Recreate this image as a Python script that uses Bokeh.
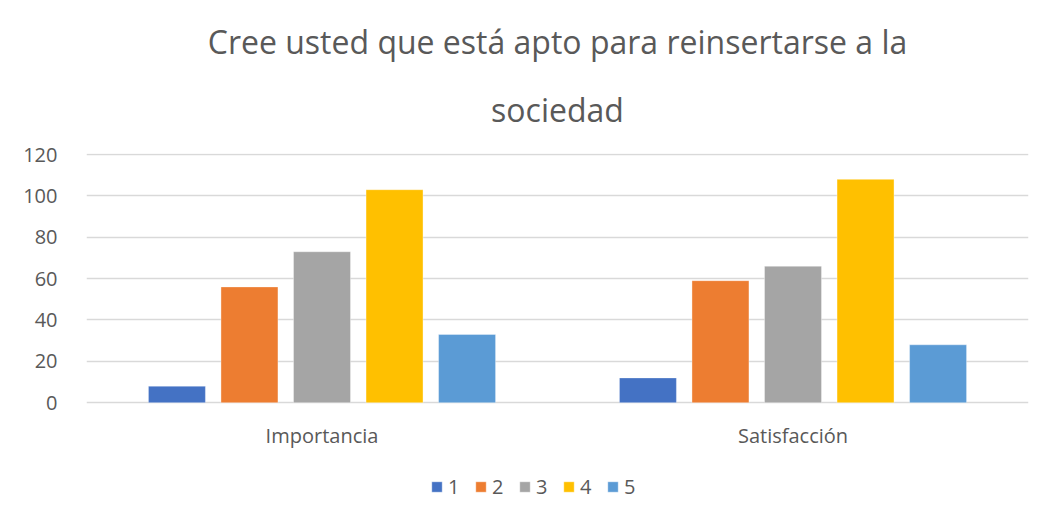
from bokeh.plotting import figure
from bokeh.models import FactorRange, Legend, LegendItem, ColumnDataSource, Range1d, Title
from bokeh.transform import dodge
from bokeh.embed import file_html
from bokeh.resources import INLINE

categories = ["Importancia", "Satisfacción"]
series_names = ["1", "2", "3", "4", "5"]
s1 = [8, 12]
s2 = [56, 59]
s3 = [73, 66]
s4 = [103, 108]
s5 = [33, 28]
colors = ["#4472C4", "#ED7D31", "#A5A5A5", "#FFC000", "#5B9BD5"]
yticks = [0, 20, 40, 60, 80, 100, 120]
title_line1 = "Cree usted que está apto para reinsertarse a la"
title_line2 = "sociedad"

src = ColumnDataSource(dict(cat=categories, s1=s1, s2=s2, s3=s3, s4=s4, s5=s5))

FONT = "Open Sans"
TXT = "#595959"
GRID = "#d9d9d9"

p = figure(width=1054, height=518, x_range=FactorRange(*categories), y_range=Range1d(-56, 120.5),
           output_backend="svg", toolbar_location=None,
           min_border_left=86, min_border_right=26, min_border_top=153, min_border_bottom=0)
p.outline_line_color = None

t2 = Title(text=title_line2, align="center", text_font=FONT, text_font_size="32px",
           text_font_style="normal", text_color=TXT, standoff=46)
p.add_layout(t2, "above")
t1 = Title(text=title_line1, align="center", text_font=FONT, text_font_size="32px",
           text_font_style="normal", text_color=TXT, standoff=0)
p.add_layout(t1, "above")

pitch = 0.154
bw = 0.121
items = []
for i, (col, name) in enumerate(zip(["s1", "s2", "s3", "s4", "s5"], series_names)):
    r = p.vbar(x=dodge("cat", (i - 2) * pitch, range=p.x_range), top=col, width=bw, source=src,
               fill_color=colors[i], line_color="white", line_width=0.6, line_alpha=0.6)
    items.append(LegendItem(label=name, renderers=[r]))

p.yaxis.ticker = yticks
p.yaxis.axis_line_color = None
p.yaxis.major_tick_line_color = None
p.yaxis.minor_tick_line_color = None
p.yaxis.major_label_text_font = FONT
p.yaxis.major_label_text_font_size = "20px"
p.yaxis.major_label_text_color = TXT
p.yaxis.major_label_standoff = 23

p.xaxis.fixed_location = 0
p.xaxis.axis_line_color = None
p.xaxis.major_tick_line_color = None
p.xaxis.minor_tick_line_color = None
p.xaxis.major_label_text_font = FONT
p.xaxis.major_label_text_font_size = "20px"
p.xaxis.major_label_text_color = TXT
p.xaxis.major_label_standoff = 13

p.xgrid.grid_line_color = None
p.ygrid.grid_line_color = GRID
p.ygrid.grid_line_width = 1.5

legend = Legend(items=items, orientation="horizontal", location=(344, 18),
                glyph_width=13, glyph_height=13, label_standoff=5, spacing=6,
                label_text_font=FONT, label_text_font_size="20px", label_text_color=TXT,
                border_line_color=None, background_fill_alpha=0, margin=0, padding=4)
p.add_layout(legend)

open("out.html", "w").write(file_html(p, INLINE))
